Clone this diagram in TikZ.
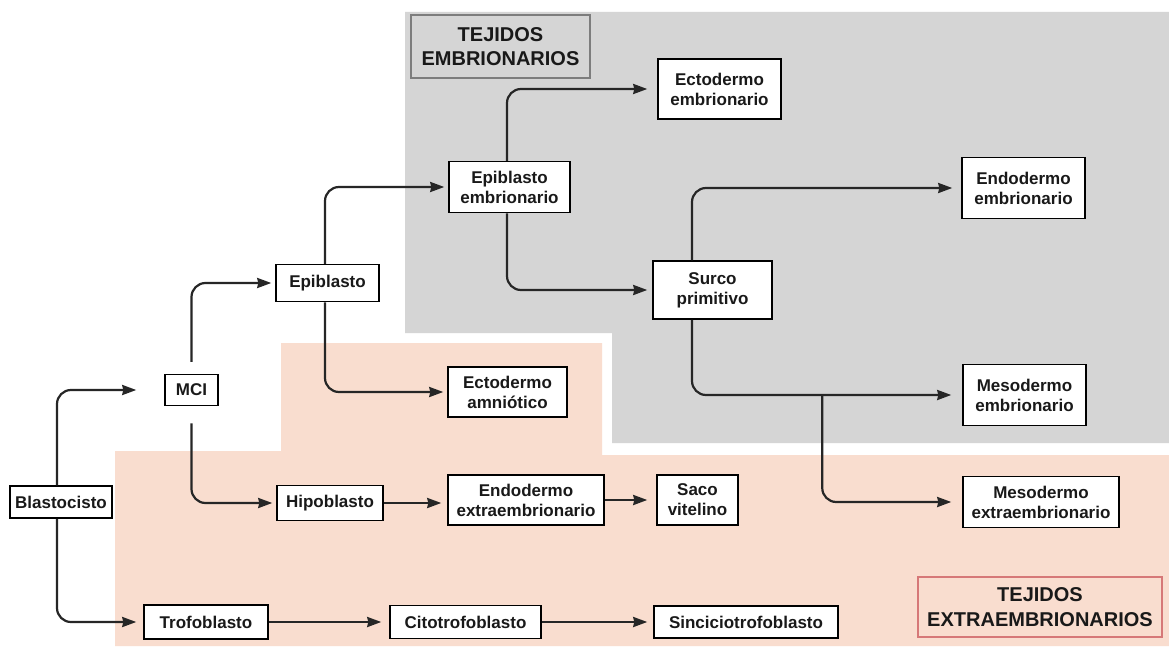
\documentclass[tikz,border=0pt]{standalone}
\usepackage{fontspec}
\setmainfont{Liberation Sans}
\usetikzlibrary{arrows.meta}
\definecolor{bggray}{RGB}{213,213,213}
\definecolor{bgpink}{RGB}{249,221,207}
\definecolor{lblgray}{RGB}{125,125,125}
\definecolor{lblred}{RGB}{214,120,120}
\definecolor{arrowc}{RGB}{38,38,38}
\begin{document}
\begin{tikzpicture}[x=1pt,y=-1pt,
  box/.style={draw=black, line width=1.5pt, fill=white, align=center, inner sep=0pt,
    text=black!90, font=\fontsize{17}{20}\selectfont\bfseries},
  tag/.style={line width=2.6pt, align=center, inner sep=0pt,
    font=\fontsize{20}{24.5}\selectfont\bfseries, text=black!90},
  arr/.style={draw=arrowc, line width=2.2pt, rounded corners=14pt,
    -{Stealth[length=14pt,width=10pt,inset=1pt]}, shorten >=4pt},
  wh/.style={minimum width=#1},
  ht/.style={minimum height=#1}]
\useasboundingbox (0,0) rectangle (1169,650);
\fill[white] (0,0) rectangle (1169,650);
% background regions
\fill[bggray] (405,12) -- (1169,12) -- (1169,443) -- (612,443) -- (612,333) -- (405,333) -- cycle;
\fill[bgpink] (281,343) -- (602,343) -- (602,455) -- (1169,455) -- (1169,646) -- (115,646) -- (115,451) -- (281,451) -- cycle;
% labels
\node[tag, draw=lblgray, fill=bggray, wh=179pt, ht=63pt] (tej1) at (500.5,46.5) {TEJIDOS\\EMBRIONARIOS};
\node[tag, draw=lblred, fill=bgpink, wh=244pt, ht=60pt] (tej2) at (1040,607) {TEJIDOS\\EXTRAEMBRIONARIOS};
% nodes
\node[box, wh=102pt, ht=32pt] (blast) at (61,502) {Blastocisto};
\node[box, wh=53pt, ht=31pt] (mci) at (191.5,390) {MCI};
\node[box, wh=103pt, ht=37pt] (epi) at (327.5,283) {Epiblasto};
\node[box, wh=106pt, ht=35pt] (hipo) at (330,503) {Hipoblasto};
\node[box, wh=124pt, ht=34pt] (tro) at (206,622) {Trofoblasto};
\node[box, wh=121pt, ht=51pt] (epiemb) at (509.5,187) {Epiblasto\\embrionario};
\node[box, wh=119pt, ht=50pt] (ectoamn) at (507.5,392) {Ectodermo\\amniótico};
\node[box, wh=156pt, ht=50pt] (endoext) at (526,500) {Endodermo\\extraembrionario};
\node[box, wh=81pt, ht=50pt] (saco) at (697.5,500) {Saco\\vitelino};
\node[box, wh=151pt, ht=33pt] (cito) at (465.5,622) {Citotrofoblasto};
\node[box, wh=184pt, ht=32pt] (sinc) at (746,622) {Sinciciotrofoblasto};
\node[box, wh=123pt, ht=60pt] (ectoemb) at (719.5,89) {Ectodermo\\embrionario};
\node[box, wh=119pt, ht=58pt] (surco) at (712.5,290) {Surco\\primitivo};
\node[box, wh=123pt, ht=61pt] (endo) at (1023.5,188) {Endodermo\\embrionario};
\node[box, wh=123pt, ht=61pt] (mesoemb) at (1024.5,395) {Mesodermo\\embrionario};
\node[box, wh=156pt, ht=51pt] (mesoext) at (1041,502) {Mesodermo\\extraembrionario};
% connectors
\draw[arr] ([xshift=-4pt]blast.north) |- ([xshift=-24pt]mci.west);
\draw[arr] ([xshift=-4pt]blast.south) |- ([xshift=-3pt]tro.west);
\draw[arr] ([yshift=12pt]mci.north) |- (epi.west);
\draw[arr] ([yshift=-17pt]mci.south) |- (hipo.west);
\draw[arr] ([xshift=-2.5pt]epi.north) |- (epiemb.west);
\draw[arr] ([xshift=-2.5pt]epi.south) |- (ectoamn.west);
\draw[arr] ([xshift=-2.5pt]epiemb.north) |- ([xshift=-6pt]ectoemb.west);
\draw[arr] ([xshift=-2.5pt]epiemb.south) |- ([xshift=-1pt]surco.west);
\draw[arr] ([xshift=-20.5pt]surco.north) |- ([xshift=-5pt]endo.west);
\draw[arr] ([xshift=-20.5pt]surco.south) |- ([xshift=-7pt]mesoemb.west);
\path (mesoemb.west) ++(-140pt,0pt) coordinate (br);
\draw[arr] (br) |- ([xshift=-7pt]mesoext.west);
\draw[arr] (hipo.east) -- ([xshift=-2pt]hipo.east -| endoext.west);
\draw[arr] (endoext.east) -- ([xshift=-5pt]endoext.east -| saco.west);
\draw[arr] (tro.east) -- ([xshift=-4pt]tro.east -| cito.west);
\draw[arr] (cito.east) -- ([xshift=-2pt]cito.east -| sinc.west);
\end{tikzpicture}
\end{document}
